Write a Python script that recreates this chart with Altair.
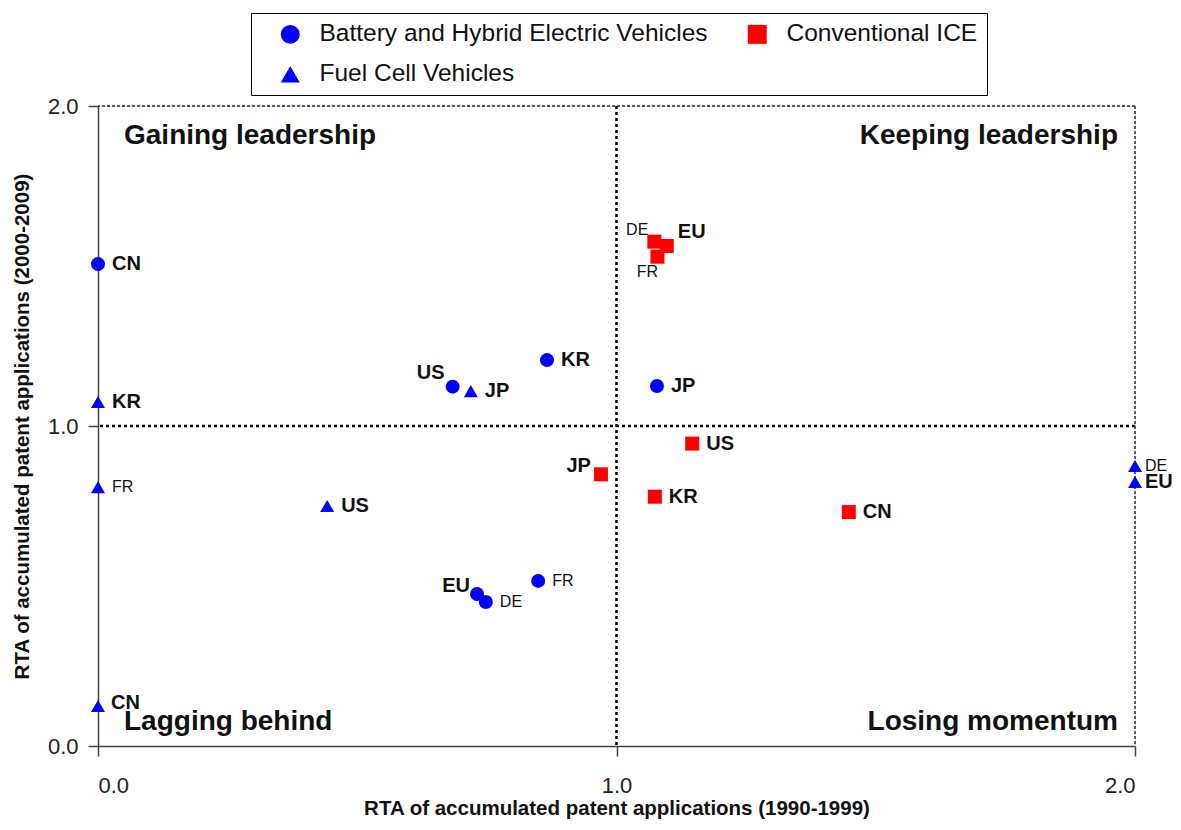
import altair as alt
import pandas as pd

SERIES = ["Battery and Hybrid Electric Vehicles", "Conventional ICE", "Fuel Cell Vehicles"]

# Battery and Hybrid Electric Vehicles (circles)
bev_country = ["CN", "KR", "US", "JP", "EU", "DE", "FR"]
bev_x = [0.0, 0.866, 0.684, 1.078, 0.731, 0.748, 0.849]
bev_y = [1.506, 1.206, 1.123, 1.125, 0.475, 0.450, 0.516]

# Fuel Cell Vehicles (triangles)
fcv_country = ["KR", "JP", "FR", "US", "CN", "DE", "EU"]
fcv_x = [0.0, 0.719, 0.0, 0.442, 0.0, 2.0, 2.0]
fcv_y = [1.075, 1.109, 0.809, 0.750, 0.125, 0.875, 0.825]

# Conventional ICE (squares)
ice_country = ["DE", "EU", "FR", "JP", "US", "KR", "CN"]
ice_x = [1.073, 1.097, 1.079, 0.970, 1.146, 1.074, 1.448]
ice_y = [1.576, 1.5625, 1.529, 0.849, 0.945, 0.779, 0.731]

quadrant_names = ["Gaining leadership", "Keeping leadership", "Lagging behind", "Losing momentum"]
quadrant_x = [0, 2, 0, 2]
quadrant_y = [2, 2, 0, 0]

tick_values = [0, 1, 2]

FONT = "Liberation Sans, Arial, Helvetica, sans-serif"

rows = []
for s, cs, xs, ys in [(SERIES[0], bev_country, bev_x, bev_y),
                      (SERIES[2], fcv_country, fcv_x, fcv_y),
                      (SERIES[1], ice_country, ice_x, ice_y)]:
    for c, x, y in zip(cs, xs, ys):
        rows.append({"series": s, "country": c, "x": x, "y": y})
df = pd.DataFrame(rows)

# label placement styles (align, dx, dy)
DEFAULT = ("left", 14, 0)
OVERRIDES = {
    (SERIES[0], "US"): ("right", -8, -14),
    (SERIES[0], "EU"): ("right", -7, -8),
    (SERIES[1], "DE"): ("right", -6, -12),
    (SERIES[1], "EU"): ("left", 11, -14),
    (SERIES[1], "FR"): ("center", -10, 15),
    (SERIES[1], "JP"): ("right", -10, -8),
    (SERIES[2], "CN"): ("left", 13, -3),
    (SERIES[2], "DE"): ("left", 10, 0),
    (SERIES[2], "EU"): ("left", 10, 0),
}
SMALL = {"DE", "FR"}

styles = []
style_ids = []
for s, c in zip(df["series"], df["country"]):
    st = OVERRIDES.get((s, c), DEFAULT) + (c in SMALL,)
    if st not in styles:
        styles.append(st)
    style_ids.append(styles.index(st))
df["style"] = style_ids

xscale = alt.Scale(domain=[0, 2], nice=False, zero=False)
yscale = alt.Scale(domain=[0, 2], nice=False, zero=False)

legend = alt.Legend(
    title=None, orient="none", legendX=153, legendY=-93, columns=2,
    direction="horizontal",
    strokeColor="#000000", padding=9, rowPadding=15, columnPadding=19,
    symbolOffset=18, labelOffset=17, symbolSize=360, symbolStrokeWidth=0,
    labelFont=FONT, labelFontSize=24.5, labelColor="#111111", labelLimit=600,
    fillColor="#ffffff",
)

base = alt.Chart(df)

points = base.mark_point(filled=True, size=196, opacity=1).encode(
    x=alt.X("x:Q", scale=xscale, axis=alt.Axis(
        values=tick_values, format=".1f", grid=False,
        domainColor="#404040", domainWidth=1.5, tickColor="#404040", tickWidth=1.5,
        tickSize=10, labelFont=FONT, labelFontSize=22, labelColor="#222222",
        labelPadding=19, title="RTA of accumulated patent applications (1990-1999)",
        titleFont=FONT, titleFontSize=20.5, titleFontWeight="bold", titleColor="#111111",
        titlePadding=2)),
    y=alt.Y("y:Q", scale=yscale, axis=alt.Axis(
        values=tick_values, format=".1f", grid=False,
        domainColor="#404040", domainWidth=1.5, tickColor="#404040", tickWidth=1.5,
        tickSize=10, labelFont=FONT, labelFontSize=22, labelColor="#222222",
        labelPadding=10, title="RTA of accumulated patent applications (2000-2009)",
        titleFont=FONT, titleFontSize=20.5, titleFontWeight="bold", titleColor="#111111",
        titlePadding=15)),
    color=alt.Color("series:N", scale=alt.Scale(domain=SERIES, range=["#0000FF", "#FF0000", "#0000FF"]), legend=legend),
    shape=alt.Shape("series:N", scale=alt.Scale(domain=SERIES, range=["circle", "square", "triangle-up"]), legend=legend),
)

label_layers = []
for i, (align, dx, dy, small) in enumerate(styles):
    label_layers.append(
        base.transform_filter(alt.datum.style == i).mark_text(
            align=align, baseline="middle", dx=dx, dy=dy, font=FONT,
            fontSize=16 if small else 20, fontWeight="normal" if small else "bold",
            color="#111111",
        ).encode(x=alt.X("x:Q", scale=xscale), y=alt.Y("y:Q", scale=yscale), text="country:N")
    )

qdf = pd.DataFrame({"name": quadrant_names, "x": quadrant_x, "y": quadrant_y})
qbase = alt.Chart(qdf)
q_layers = []
for name, xv, yv in zip(quadrant_names, quadrant_x, quadrant_y):
    q_layers.append(
        qbase.transform_filter(alt.datum.name == name).mark_text(
            align="left" if xv == 0 else "right", baseline="middle",
            dx=26 if xv == 0 else -17, dy=30 if yv == 2 else -24,
            font=FONT, fontSize=28, fontWeight="bold", color="#111111",
        ).encode(x=alt.X("x:Q", scale=xscale), y=alt.Y("y:Q", scale=yscale), text="name:N")
    )

# reference lines
mid_v = alt.Chart(pd.DataFrame({"x": [1]})).mark_rule(color="#000000", strokeWidth=2.5, strokeDash=[3, 3]).encode(
    x=alt.X("x:Q", scale=xscale))
mid_h = alt.Chart(pd.DataFrame({"y": [1]})).mark_rule(color="#000000", strokeWidth=2.5, strokeDash=[3, 3]).encode(
    y=alt.Y("y:Q", scale=yscale))
right_b = alt.Chart(pd.DataFrame({"x": [2]})).mark_rule(color="#333333", strokeWidth=1.5, strokeDash=[3, 2]).encode(
    x=alt.X("x:Q", scale=xscale))
top_b = alt.Chart(pd.DataFrame({"y": [2]})).mark_rule(color="#333333", strokeWidth=1.5, strokeDash=[3, 2]).encode(
    y=alt.Y("y:Q", scale=yscale))

chart = alt.layer(mid_v, mid_h, right_b, top_b, *q_layers, points, *label_layers).properties(
    width=1037, height=640,
    padding={"left": 90, "top": 98, "right": 38, "bottom": 76},
    autosize=alt.AutoSizeParams(type="none"),
).configure_view(stroke=None).configure(background="#ffffff")

chart.save("out.html", embed_options={"renderer": "svg", "actions": False})
